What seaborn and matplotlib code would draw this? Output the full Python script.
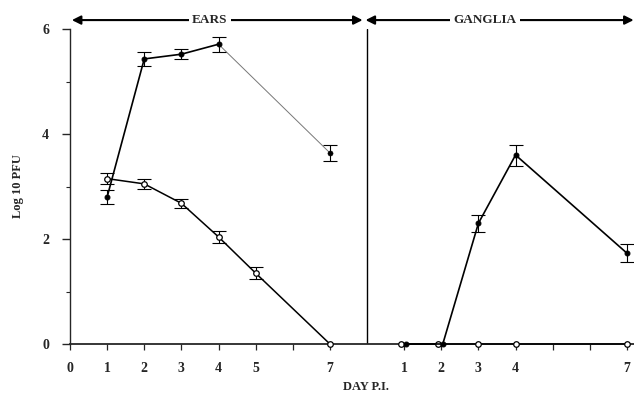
import numpy as np
import pandas as pd
import matplotlib.pyplot as plt
import seaborn as sns

# values (log10 PFU)
ears_days = [1, 2, 3, 4, 7]
ears_filled = [2.80, 5.43, 5.52, 5.71, 3.64]
ears_filled_err = [0.13, 0.14, 0.10, 0.14, 0.15]

ears_open_days = [1, 2, 3, 4, 5, 7]
ears_open = [3.15, 3.05, 2.68, 2.04, 1.35, 0.0]
ears_open_err = [0.10, 0.10, 0.09, 0.12, 0.12, np.nan]

gang_days = [1, 2, 3, 4, 7]
gang_filled = [0.0, 0.0, 2.30, 3.60, 1.73]
gang_filled_err = [np.nan, np.nan, 0.16, 0.20, 0.17]
gang_open = [0.0, 0.0, 0.0, 0.0, 0.0]

ears_ticks = [0, 1, 2, 3, 4, 5, 6, 7]
ears_ticklabels = ["0", "1", "2", "3", "4", "5", "", "7"]
gang_ticks = [1, 2, 3, 4, 5, 6, 7]
gang_ticklabels = ["1", "2", "3", "4", "", "", "7"]

gang_offset = 8  # ganglia panel starts after ears day 8

sns.set_style("ticks")
plt.rcParams["font.family"] = ["Liberation Serif", "DejaVu Serif"]
plt.rcParams["font.weight"] = "bold"

fig = plt.figure(figsize=(6.34, 3.94), dpi=100)
ax = fig.add_axes([70 / 634, 50 / 394, 564 / 634, 315 / 394])

ears_f = pd.DataFrame({"x": ears_days, "y": ears_filled, "err": ears_filled_err})
ears_o = pd.DataFrame({"x": ears_open_days, "y": ears_open, "err": ears_open_err})
gx = np.array(gang_days) + gang_offset
same = np.isclose(gang_open, gang_filled)
gang_f = pd.DataFrame({"x": gx + 0.04 * same, "y": gang_filled, "err": gang_filled_err})
gang_o = pd.DataFrame({"x": gx - 0.08 * same, "y": gang_open})

open_kw = dict(color="black", marker="o", markersize=4, markerfacecolor="white",
               markeredgecolor="black", markeredgewidth=0.9, linewidth=1.1, clip_on=False)
fill_kw = dict(color="black", marker="o", markersize=3.5, markerfacecolor="black",
               markeredgecolor="black", linewidth=1.2, clip_on=False)

# ears
sns.lineplot(data=ears_o, x="x", y="y", ax=ax, **open_kw, zorder=3)
sns.lineplot(data=ears_f.iloc[:4], x="x", y="y", ax=ax, **fill_kw, zorder=4)
sns.lineplot(data=ears_f.iloc[3:], x="x", y="y", ax=ax, color="#777777",
             linewidth=0.7, zorder=2)
sns.scatterplot(data=ears_f.iloc[4:], x="x", y="y", ax=ax, color="black", s=14,
                edgecolor="black", zorder=4)
# ganglia
sns.lineplot(data=gang_o, x="x", y="y", ax=ax, **open_kw, zorder=3)
sns.lineplot(data=gang_f, x="x", y="y", ax=ax, **fill_kw, zorder=4)

for d in (ears_f, ears_o, gang_f):
    ax.errorbar(d["x"], d["y"], yerr=d["err"], fmt="none", ecolor="black",
                elinewidth=0.8, capsize=5, capthick=0.8, zorder=2)

ax.axvline(gang_offset, ymin=0, ymax=1, color="black", linewidth=1.0)

ax.set_xlim(0, 15.19)
ax.set_ylim(0, 6)
ax.set_xticks(ears_ticks + [t + gang_offset for t in gang_ticks])
ax.set_xticklabels(ears_ticklabels + gang_ticklabels)
ax.set_yticks([0, 2, 4, 6])
ax.set_yticks([1, 3, 5], minor=True)
ax.tick_params(axis="y", which="major", length=6, width=1, pad=9, labelsize=10)
ax.tick_params(axis="y", which="minor", length=3, width=0.8)
ax.tick_params(axis="x", length=4, width=0.9, pad=9, labelsize=10)
for lab in ax.get_xticklabels() + ax.get_yticklabels():
    lab.set_fontweight("bold")

sns.despine(ax=ax)
ax.spines["left"].set_linewidth(1.0)
ax.spines["bottom"].set_linewidth(1.3)

ax.set_xlabel("DAY P.I.", fontsize=9, fontweight="bold")
ax.xaxis.set_label_coords(0.525, -0.118)
ax.set_ylabel("Log 10 PFU", fontsize=9, fontweight="bold")
ax.yaxis.set_label_coords(-0.082, 0.5)

# section arrows above the plot
arr_y = 6.17
ax.annotate("", xy=(0.05, arr_y), xytext=(7.88, arr_y), annotation_clip=False,
            arrowprops=dict(arrowstyle="<|-|>", color="black", lw=1.5,
                            mutation_scale=13, shrinkA=0, shrinkB=0))
ax.annotate("", xy=(7.96, arr_y), xytext=(15.18, arr_y), annotation_clip=False,
            arrowprops=dict(arrowstyle="<|-|>", color="black", lw=1.5,
                            mutation_scale=13, shrinkA=0, shrinkB=0))
ax.text(3.77, arr_y, "EARS", ha="center", va="center", fontsize=9.5, fontweight="bold",
        bbox=dict(facecolor="white", edgecolor="none", pad=2.5), zorder=5, clip_on=False)
ax.text(11.17, arr_y, "GANGLIA", ha="center", va="center", fontsize=9.5, fontweight="bold",
        bbox=dict(facecolor="white", edgecolor="none", pad=2.5), zorder=5, clip_on=False)

fig.savefig("out.png", dpi=100)
